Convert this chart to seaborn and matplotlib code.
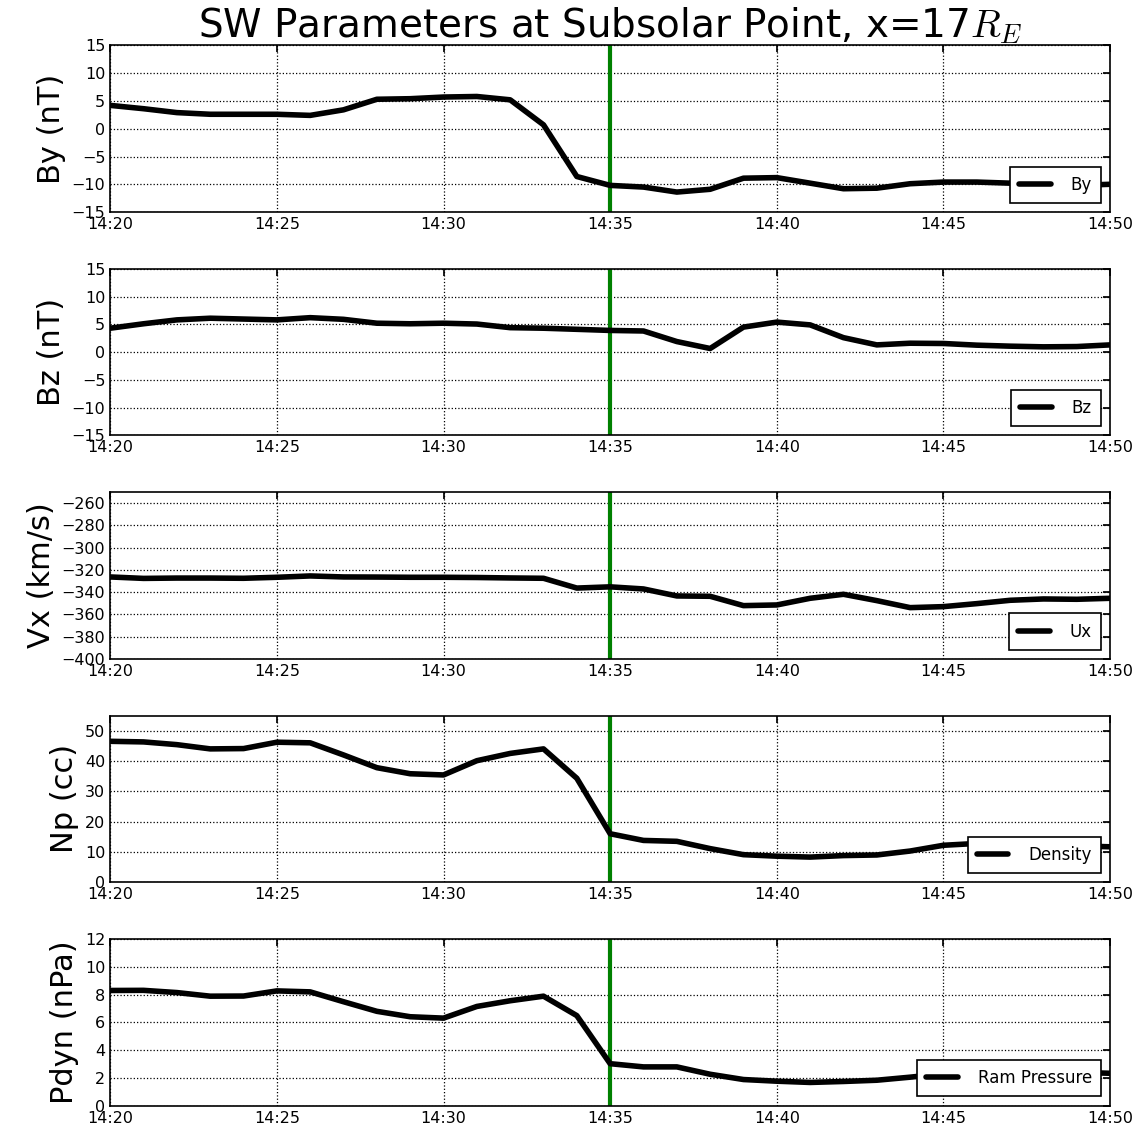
import numpy as np
import pandas as pd
import matplotlib
matplotlib.use("Agg")
import matplotlib.pyplot as plt
import matplotlib.dates as mdates
import seaborn as sns

# One-minute samples from 14:20 to 14:50
times = pd.date_range("2015-01-01 14:20", "2015-01-01 14:50", freq="1min")

by = [4.2, 3.6, 2.9, 2.6, 2.6, 2.6, 2.4, 3.4, 5.3, 5.4, 5.7, 5.8, 5.2, 0.7,
      -8.6, -10.2, -10.5, -11.4, -10.9, -8.9, -8.8, -9.8, -10.8, -10.7, -9.9,
      -9.6, -9.6, -9.8, -10.1, -10.2, -10.0]
bz = [4.3, 5.1, 5.8, 6.1, 5.95, 5.8, 6.2, 5.9, 5.2, 5.1, 5.2, 5.05, 4.4, 4.3,
      4.1, 3.9, 3.8, 1.9, 0.65, 4.5, 5.4, 4.9, 2.6, 1.3, 1.6, 1.55, 1.25, 1.07,
      0.95, 1.0, 1.3]
ux = [-326.3, -327.6, -327.3, -327.3, -327.5, -326.6, -325.4, -326.3, -326.4,
      -326.6, -326.6, -326.8, -327.2, -327.5, -336.3, -335.2, -337.1, -343.4,
      -343.7, -352.1, -351.5, -345.5, -341.9, -347.6, -353.9, -353.0, -350.3,
      -347.3, -346.1, -346.4, -345.5]
density = [46.5, 46.3, 45.4, 44.0, 44.1, 46.2, 46.0, 42.0, 37.8, 35.8, 35.4,
           40.1, 42.5, 44.0, 34.3, 16.0, 13.8, 13.5, 11.1, 9.1, 8.6, 8.3, 8.8,
           9.0, 10.3, 12.2, 12.8, 12.9, 12.5, 12.0, 11.7]
pdyn = [8.29, 8.30, 8.14, 7.88, 7.89, 8.26, 8.19, 7.48, 6.79, 6.40, 6.30, 7.14,
        7.55, 7.88, 6.48, 3.02, 2.79, 2.79, 2.26, 1.88, 1.76, 1.67, 1.74, 1.83,
        2.05, 2.30, 2.45, 2.50, 2.45, 2.40, 2.33]

series_values = [by, bz, ux, density, pdyn]
legend_labels = ["By", "Bz", "Ux", "Density", "Ram Pressure"]
y_labels = ["By (nT)", "Bz (nT)", "Vx (km/s)", "Np (cc)", "Pdyn (nPa)"]
y_limits = [(-15, 15), (-15, 15), (-400, -250), (0, 55), (0, 12)]
y_ticks = [np.arange(-15, 16, 5), np.arange(-15, 16, 5),
           np.arange(-400, -259, 20), np.arange(0, 51, 10), np.arange(0, 13, 2)]
event_time = pd.Timestamp("2015-01-01 14:35")

sns.set_theme(style="white")
plt.rcParams.update({
    "font.family": ["DejaVu Sans"],
    "mathtext.fontset": "cm",
    "text.color": "black",
    "axes.labelcolor": "black",
    "axes.edgecolor": "black",
    "axes.linewidth": 1.2,
    "xtick.direction": "in",
    "ytick.direction": "in",
    "xtick.top": True,
    "ytick.right": True,
    "xtick.major.size": 5,
    "ytick.major.size": 5,
    "xtick.color": "black",
    "ytick.color": "black",
})

fig, axes = plt.subplots(5, 1, figsize=(11.48, 11.34), dpi=100)
fig.subplots_adjust(left=0.096, right=0.967, top=0.960, bottom=0.025, hspace=0.34)

df = pd.DataFrame({"time": times})
for ax, vals, lab, ylab, ylim, yt in zip(axes, series_values, legend_labels,
                                         y_labels, y_limits, y_ticks):
    df["value"] = vals
    ax.axvline(event_time, color="green", lw=3, zorder=1)
    sns.lineplot(data=df, x="time", y="value", ax=ax, color="black", lw=4,
                 label=lab, zorder=3)
    ax.set_xlim(times[0], times[-1])
    ax.set_ylim(*ylim)
    ax.set_yticks(yt)
    ax.xaxis.set_major_locator(mdates.MinuteLocator(byminute=range(0, 60, 5)))
    ax.xaxis.set_major_formatter(mdates.DateFormatter("%H:%M"))
    ax.grid(True, color="black", linestyle=":", linewidth=0.9)
    ax.set_xlabel("")
    ax.set_ylabel(ylab, fontsize=22)
    ax.tick_params(labelsize=11.5)
    leg = ax.legend(loc="lower right", fontsize=12, frameon=True, fancybox=False,
                    framealpha=1, edgecolor="black", handlelength=1.9,
                    handletextpad=1.2, borderpad=0.55, borderaxespad=0.55)
    leg.get_frame().set_linewidth(1.2)
    for spine in ax.spines.values():
        spine.set_zorder(5)

axes[0].set_title("SW Parameters at Subsolar Point, x=17$R_E$", fontsize=28)

fig.savefig("out.png", dpi=100)
